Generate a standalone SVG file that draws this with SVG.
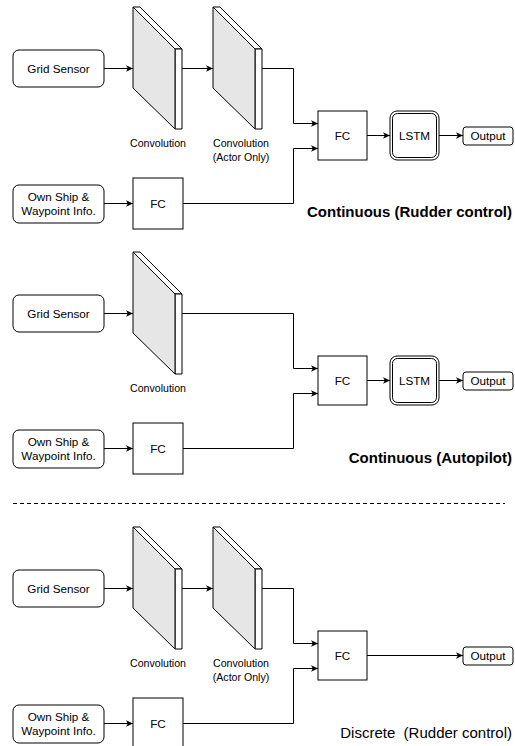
<svg xmlns="http://www.w3.org/2000/svg" width="515" height="746" viewBox="0 0 515 746">
<defs>
<style>
.box{fill:#fff;stroke:#000;stroke-width:1}
.t{font-family:"Liberation Sans",Arial,sans-serif;font-size:11.7px;fill:#000;text-anchor:middle}
.lbl{font-family:"Liberation Sans",Arial,sans-serif;font-size:10.6px;fill:#000;text-anchor:middle}
.title{font-family:"Liberation Sans",Arial,sans-serif;font-size:15px;fill:#000;text-anchor:end}
.conn{fill:none;stroke:#000;stroke-width:1}
.front{fill:#e6e6e6;stroke:#000;stroke-width:1;stroke-linejoin:round}
.side{fill:#fff;stroke:#000;stroke-width:1;stroke-linejoin:round}
</style>
<marker id="arr" markerWidth="8" markerHeight="8" refX="7" refY="4" orient="auto" markerUnits="userSpaceOnUse">
<path d="M0,0.8 L7,4 L0,7.2 L1.8,4 Z" fill="#000"/>
</marker>
<g id="conv">
<polygon class="side" points="0,0 7,0 49,42 42,42"/>
<polygon class="side" points="42,42 49,42 49,122 42,122"/>
<polygon class="front" points="0,0 42,42 42,122 0,81"/>
</g>
</defs>
<rect width="515" height="746" fill="#fff"/>

<!-- Section 1 -->
<g id="s1-grid"><rect class="box" x="13" y="50" width="91" height="37" rx="6"/><text class="t" x="58.5" y="72.5">Grid Sensor</text></g>
<g id="s1-conv1"><use href="#conv" x="133" y="7"/><text class="lbl" x="158" y="147">Convolution</text></g>
<g id="s1-conv2"><use href="#conv" x="213" y="7"/><text class="lbl" x="241" y="147">Convolution</text><text class="lbl" x="241" y="161">(Actor Only)</text></g>
<g id="s1-own"><rect class="box" x="13" y="185" width="91" height="38" rx="6"/><text class="t" x="58.5" y="201">Own Ship &amp;</text><text class="t" x="58.5" y="215">Waypoint Info.</text></g>
<g id="s1-fcs"><rect class="box" x="133" y="178" width="50" height="51"/><text class="t" x="158" y="208">FC</text></g>
<g id="s1-fc"><rect class="box" x="318" y="111" width="49" height="49"/><text class="t" x="342.5" y="140">FC</text></g>
<g id="s1-lstm"><rect class="box" x="390" y="111" width="49" height="49" rx="7"/><rect class="box" x="392.5" y="113.5" width="44" height="44" rx="5"/><text class="t" x="414.5" y="140">LSTM</text></g>
<g id="s1-out"><rect class="box" x="463" y="127" width="50" height="18" rx="3"/><text class="t" x="488" y="140">Output</text></g>
<text class="title" x="512" y="217" font-weight="bold">Continuous (Rudder control)</text>

<!-- Section 2 -->
<g id="s2-grid"><rect class="box" x="13" y="295" width="91" height="37" rx="6"/><text class="t" x="58.5" y="317.5">Grid Sensor</text></g>
<g id="s2-conv1"><use href="#conv" x="133" y="252"/><text class="lbl" x="158" y="392">Convolution</text></g>
<g id="s2-own"><rect class="box" x="13" y="430" width="91" height="38" rx="6"/><text class="t" x="58.5" y="446">Own Ship &amp;</text><text class="t" x="58.5" y="460">Waypoint Info.</text></g>
<g id="s2-fcs"><rect class="box" x="133" y="423" width="50" height="51"/><text class="t" x="158" y="453">FC</text></g>
<g id="s2-fc"><rect class="box" x="318" y="356" width="49" height="49"/><text class="t" x="342.5" y="385">FC</text></g>
<g id="s2-lstm"><rect class="box" x="390" y="356" width="49" height="49" rx="7"/><rect class="box" x="392.5" y="358.5" width="44" height="44" rx="5"/><text class="t" x="414.5" y="385">LSTM</text></g>
<g id="s2-out"><rect class="box" x="463" y="372" width="50" height="18" rx="3"/><text class="t" x="488" y="385">Output</text></g>
<text class="title" x="512" y="463" font-weight="bold">Continuous (Autopilot)</text>

<line x1="13" y1="503.5" x2="505" y2="503.5" stroke="#000" stroke-width="1" stroke-dasharray="4 3"/>

<!-- Section 3 -->
<g id="s3-grid"><rect class="box" x="13" y="570" width="91" height="37" rx="6"/><text class="t" x="58.5" y="592.5">Grid Sensor</text></g>
<g id="s3-conv1"><use href="#conv" x="133" y="527"/><text class="lbl" x="158" y="667">Convolution</text></g>
<g id="s3-conv2"><use href="#conv" x="213" y="527"/><text class="lbl" x="241" y="667">Convolution</text><text class="lbl" x="241" y="681">(Actor Only)</text></g>
<g id="s3-own"><rect class="box" x="13" y="705" width="91" height="38" rx="6"/><text class="t" x="58.5" y="721">Own Ship &amp;</text><text class="t" x="58.5" y="735">Waypoint Info.</text></g>
<g id="s3-fcs"><rect class="box" x="133" y="698" width="50" height="51"/><text class="t" x="158" y="728">FC</text></g>
<g id="s3-fc"><rect class="box" x="318" y="631" width="49" height="49"/><text class="t" x="342.5" y="660">FC</text></g>
<g id="s3-out"><rect class="box" x="463" y="647" width="50" height="18" rx="3"/><text class="t" x="488" y="660">Output</text></g>
<text class="title" x="512" y="738" xml:space="preserve">Discrete  (Rudder control)</text>

<g id="connectors">
<path class="conn" marker-end="url(#arr)" d="M104,68.5 H133"/>
<path class="conn" marker-end="url(#arr)" d="M182,68.5 H213"/>
<path class="conn" marker-end="url(#arr)" d="M262,68.5 H293.5 V123.5 H318"/>
<path class="conn" marker-end="url(#arr)" d="M104,203.5 H133"/>
<path class="conn" marker-end="url(#arr)" d="M183,203.5 H293.5 V148.5 H318"/>
<path class="conn" marker-end="url(#arr)" d="M367,135.5 H390"/>
<path class="conn" marker-end="url(#arr)" d="M439,135.5 H463"/>

<path class="conn" marker-end="url(#arr)" d="M104,313.5 H133"/>
<path class="conn" marker-end="url(#arr)" d="M182,313.5 H293.5 V368.5 H318"/>
<path class="conn" marker-end="url(#arr)" d="M104,448.5 H133"/>
<path class="conn" marker-end="url(#arr)" d="M183,448.5 H293.5 V393.5 H318"/>
<path class="conn" marker-end="url(#arr)" d="M367,380.5 H390"/>
<path class="conn" marker-end="url(#arr)" d="M439,380.5 H463"/>

<path class="conn" marker-end="url(#arr)" d="M104,588.5 H133"/>
<path class="conn" marker-end="url(#arr)" d="M182,588.5 H213"/>
<path class="conn" marker-end="url(#arr)" d="M262,588.5 H293.5 V643.5 H318"/>
<path class="conn" marker-end="url(#arr)" d="M104,723.5 H133"/>
<path class="conn" marker-end="url(#arr)" d="M183,723.5 H293.5 V668.5 H318"/>
<path class="conn" marker-end="url(#arr)" d="M367,655.5 H463"/>
</g>
</svg>
